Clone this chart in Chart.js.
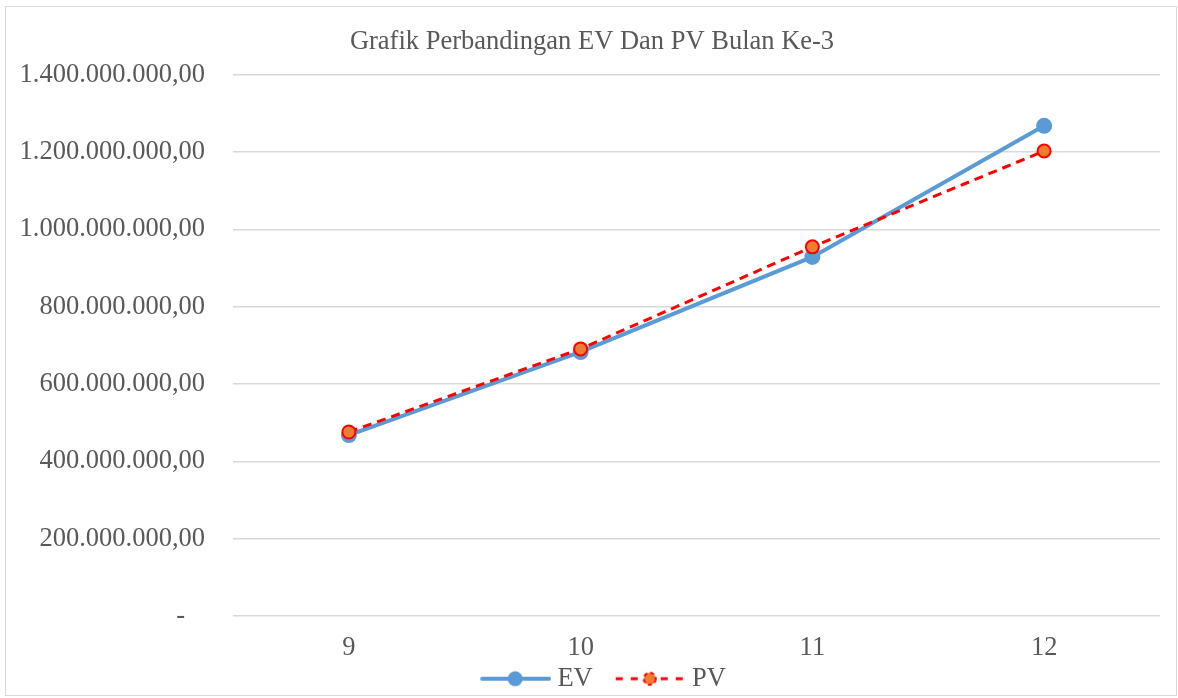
<!DOCTYPE html>
<html>
<head>
<meta charset="utf-8">
<script src="https://cdn.jsdelivr.net/npm/chart.js@4/dist/chart.umd.min.js"></script>
<style>
  html, body { margin: 0; padding: 0; background: #fff; }
  #wrap { position: absolute; left: 0; top: 0; width: 1178px; height: 698px; }
  #frame { position: absolute; left: 5px; top: 6px; width: 1172px; height: 690px; border: 1px solid #d9d9d9; box-sizing: border-box; pointer-events: none; }
</style>
</head>
<body>
<div id="wrap"><canvas id="c" width="1178" height="698"></canvas></div>
<div id="frame"></div>
<script>
const titleText = 'Grafik Perbandingan EV Dan PV Bulan Ke-3';
const categories = ['9', '10', '11', '12'];
const evValues = [468000000, 683000000, 929000000, 1268000000];
const pvValues = [476000000, 691000000, 955000000, 1203000000];
const yTickLabels = ['-   ', '200.000.000,00', '400.000.000,00', '600.000.000,00', '800.000.000,00', '1.000.000.000,00', '1.200.000.000,00', '1.400.000.000,00'];

const FONT = "'Liberation Serif', 'Times New Roman', serif";
const TXT = '#595959';
const FS = 26.5;

function legendIcon(kind) {
  const c = document.createElement('canvas');
  c.width = 100; c.height = 20;
  const g = c.getContext('2d');
  const cx = 64;
  if (kind === 'ev') {
    g.strokeStyle = '#5B9BD5'; g.lineWidth = 4; g.lineCap = 'round';
    g.beginPath(); g.moveTo(cx - 33, 10); g.lineTo(cx + 34, 10); g.stroke();
    g.fillStyle = '#5B9BD5';
    g.beginPath(); g.arc(cx, 10, 7.5, 0, Math.PI * 2); g.fill();
  } else {
    g.strokeStyle = '#FF0000'; g.lineWidth = 3;
    g.setLineDash([7, 8]);
    g.beginPath(); g.moveTo(cx - 34, 10); g.lineTo(cx + 34, 10); g.stroke();
    g.setLineDash([]);
    g.fillStyle = '#ED7D31';
    g.beginPath(); g.arc(cx, 10, 6, 0, Math.PI * 2); g.fill();
    g.strokeStyle = '#FF0000'; g.lineWidth = 2;
    g.setLineDash([4, 3]);
    g.stroke();
  }
  return c;
}

new Chart(document.getElementById('c'), {
  type: 'line',
  data: {
    labels: categories,
    datasets: [
      {
        label: 'EV',
        data: evValues,
        borderColor: '#5B9BD5',
        backgroundColor: '#5B9BD5',
        borderWidth: 4,
        pointRadius: 8,
        pointHoverRadius: 8,
        pointBackgroundColor: '#5B9BD5',
        pointBorderColor: '#5B9BD5',
        pointBorderWidth: 0,
        tension: 0,
        order: 2
      },
      {
        label: 'PV',
        data: pvValues,
        borderColor: '#FF0000',
        backgroundColor: '#ED7D31',
        borderWidth: 3,
        borderDash: [9, 6],
        pointRadius: 6.5,
        pointHoverRadius: 6.5,
        pointBackgroundColor: '#ED7D31',
        pointBorderColor: '#FF0000',
        pointBorderWidth: 2,
        tension: 0,
        order: 1
      }
    ]
  },
  options: {
    responsive: false,
    animation: false,
    devicePixelRatio: 1,
    layout: { padding: { left: 6, right: 0, top: 10, bottom: -4 } },
    plugins: {
      title: {
        display: true,
        text: titleText,
        color: TXT,
        font: { family: FONT, size: FS, weight: 'normal', lineHeight: 1.2 },
        padding: { top: 16, bottom: 17 }
      },
      legend: {
        display: true,
        position: 'bottom',
        labels: {
          color: TXT,
          font: { family: FONT, size: FS },
          usePointStyle: true,
          pointStyleWidth: 86,
          padding: 0,
          generateLabels(chart) {
            return chart.data.datasets.map((ds, i) => ({
              text: ds.label,
              pointStyle: legendIcon(i === 0 ? 'ev' : 'pv'),
              fillStyle: ds.backgroundColor,
              strokeStyle: ds.borderColor,
              lineWidth: 0,
              fontColor: TXT,
              hidden: false,
              datasetIndex: i
            }));
          }
        }
      },
      tooltip: { enabled: false }
    },
    scales: {
      x: {
        offset: true,
        afterFit(scale) { scale.height = 49.5; },
        grid: { display: false, drawTicks: false },
        border: { display: false },
        ticks: { color: TXT, font: { family: FONT, size: FS, lineHeight: 1.2 }, padding: 16 }
      },
      y: {
        min: 0,
        max: 1400000000,
        afterFit(scale) { scale.width = 227; },
        grid: { color: '#d9d9d9', lineWidth: 1.5, drawTicks: false },
        border: { display: false },
        ticks: {
          stepSize: 200000000,
          color: TXT,
          font: { family: FONT, size: FS },
          padding: 28,
          callback(value, index) { return yTickLabels[index]; }
        }
      },
      yRight: {
        position: 'right',
        display: true,
        afterFit(scale) { scale.width = 18; },
        grid: { display: false, drawTicks: false },
        border: { display: false },
        ticks: { display: false }
      }
    }
  }
});
</script>
</body>
</html>
